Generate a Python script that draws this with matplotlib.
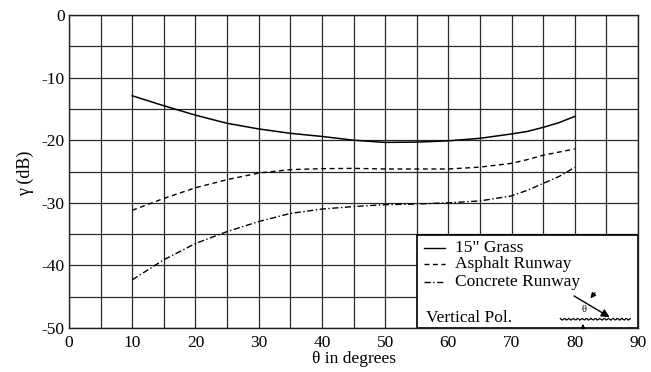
import matplotlib
matplotlib.use('Agg')
import numpy as np
from matplotlib import pyplot as plt
from matplotlib.patches import Rectangle

plt.rcParams['font.family'] = ['Liberation Serif', 'DejaVu Serif']
plt.rcParams['font.size'] = 12.5
plt.rcParams['axes.unicode_minus'] = False

# incidence angle (degrees) and reflection coefficient (dB) per surface
theta_deg = [10, 15, 20, 25, 30, 35, 40, 45, 50, 55, 60, 65, 70, 72.5, 75, 77.5, 80]
grass_db = [-12.9, -14.5, -16.0, -17.3, -18.2, -18.9, -19.4, -20.0, -20.35, -20.3,
            -20.1, -19.7, -19.0, -18.6, -17.95, -17.2, -16.2]
asphalt_db = [-31.2, -29.3, -27.6, -26.3, -25.25, -24.7, -24.55, -24.5, -24.6, -24.6,
              -24.6, -24.3, -23.7, -23.1, -22.4, -21.9, -21.4]
concrete_db = [-42.3, -39.1, -36.5, -34.6, -33.0, -31.7, -31.0, -30.6, -30.3, -30.2,
               -30.0, -29.7, -28.9, -28.0, -26.9, -25.8, -24.35]

series_labels = ['15" Grass', 'Asphalt Runway', 'Concrete Runway']
x_ticks = [0, 10, 20, 30, 40, 50, 60, 70, 80, 90]
y_ticks = [0, -10, -20, -30, -40, -50]

dashed = (0, (3.5, 2.6))
dash_dot = (0, (4.5, 1.8, 1.0, 1.8))

fig = plt.figure(figsize=(6.51, 3.72), dpi=100)
ax = fig.add_axes([69 / 651, 1 - 328 / 372, 569 / 651, 313 / 372])

ax.plot(theta_deg, grass_db, color='black', lw=1.1, linestyle='-', zorder=3)
ax.plot(theta_deg, asphalt_db, color='black', lw=1.0, linestyle=dashed, zorder=3)
ax.plot(theta_deg, concrete_db, color='black', lw=1.0, linestyle=dash_dot, zorder=3)

ax.set_xlim(0, 90)
ax.set_ylim(-50, 0)
ax.set_xticks(x_ticks)
ax.set_yticks(y_ticks)
ax.set_xticks(np.arange(5, 90, 10), minor=True)
ax.set_yticks(np.arange(-45, 0, 10), minor=True)
ax.grid(True, which='both', color='#2a2a2a', lw=0.9)
ax.set_axisbelow(True)
ax.tick_params(which='both', length=0)
ax.tick_params(axis='x', pad=5)
ax.tick_params(axis='y', pad=3)
for s in ax.spines.values():
    s.set_linewidth(1.0)
    s.set_color('#222222')

ax.set_xlabel('θ in degrees', labelpad=0)
fig.text(25 / 651, 1 - 173 / 372, 'γ (dB)', rotation=90, ha='center', va='center', fontsize=13)
fig.text(-0.006, 1 - 339 / 372, '0', ha='center', va='center')

# legend panel drawn in data coordinates
ax.add_patch(Rectangle((55.1, -50), 34.9, 14.9, facecolor='white', edgecolor='black',
                       lw=1.2, zorder=4))
row_y = [-37.2, -39.8, -42.6]
styles = ['-', dashed, dash_dot]
for y, ls, lab in zip(row_y, styles, series_labels):
    ax.plot([56.1, 59.5], [y, y], color='black', lw=1.0, linestyle=ls, zorder=5)
    ax.text(61.0, y, lab, ha='left', va='center', zorder=5)
ax.text(56.4, -48.4, 'Vertical Pol.', ha='left', va='center', zorder=5)

# sketch of the incident wave above a rough surface
wx = np.linspace(77.7, 88.8, 120)
wy = -48.6 + 0.12 * np.sin(wx * 9.0) + 0.06 * np.sin(wx * 23.0)
ax.plot(wx, wy, color='black', lw=0.8, zorder=5)
ax.annotate('', xy=(85.9, -48.5), xytext=(79.5, -44.65),
            arrowprops=dict(arrowstyle='-|>', color='black', lw=1.0, mutation_scale=12), zorder=6)
ax.annotate('', xy=(82.2, -45.6), xytext=(83.5, -44.0),
            arrowprops=dict(arrowstyle='-|>', color='black', lw=0.8, mutation_scale=8), zorder=6)
ax.annotate('', xy=(81.3, -48.9), xytext=(81.3, -50.6), annotation_clip=False,
            arrowprops=dict(arrowstyle='-|>', color='black', lw=0.8, mutation_scale=6), zorder=6)
ax.text(81.4, -47.05, 'θ', ha='center', va='center', fontsize=7.5, zorder=6)

fig.savefig('out.png', dpi=100)
